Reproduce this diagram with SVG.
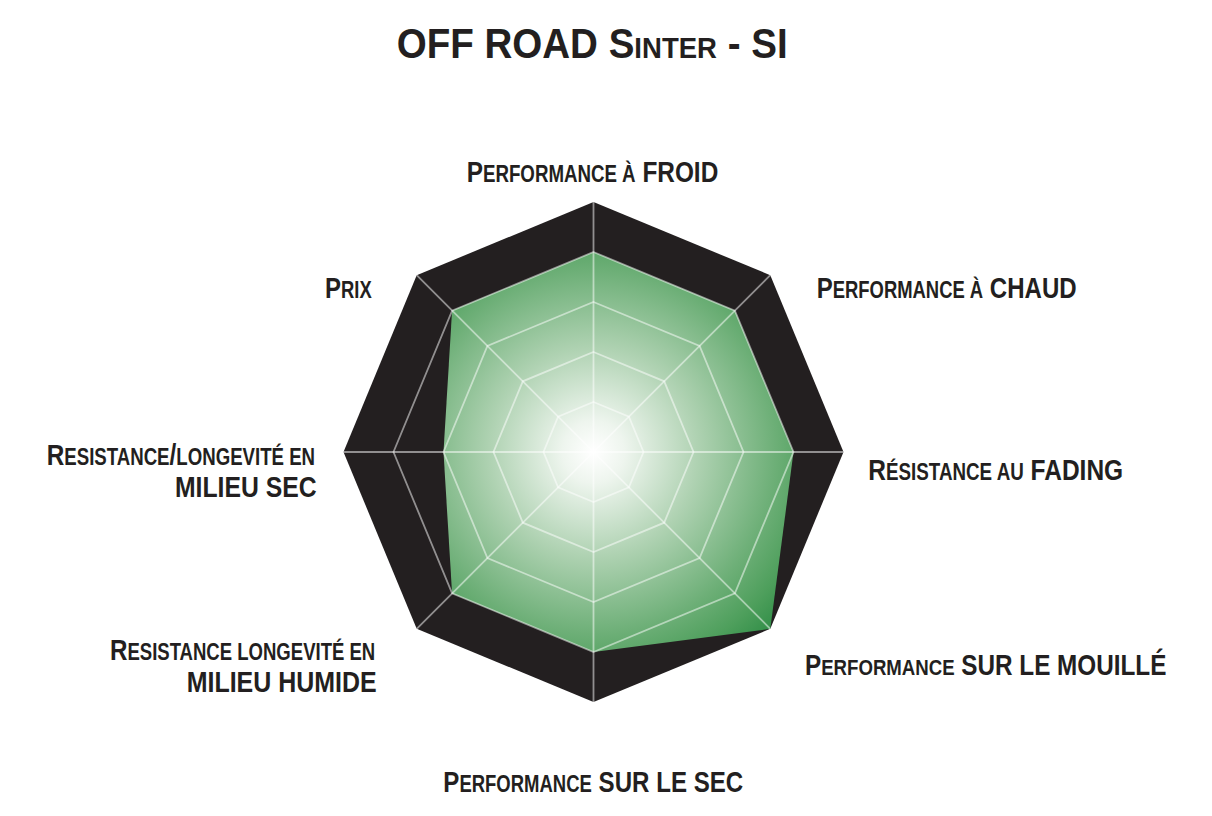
<svg xmlns="http://www.w3.org/2000/svg" width="1212" height="816" viewBox="0 0 1212 816">
<style>
  text { font-family: "Liberation Sans", Arial, sans-serif; font-weight: bold; fill: #231f20; }
  .big { font-size: 30px; }
  .sm { font-size: 23px; }
  .tbig { font-size: 42px; }
  .tsm { font-size: 30px; }
  .grid { fill: none; stroke: #ffffff; stroke-opacity: 0.5; stroke-width: 1.8; stroke-linejoin: miter; }
</style>
<defs>
  <radialGradient id="greenGrad" gradientUnits="userSpaceOnUse" cx="593.5" cy="452" r="260">
    <stop offset="0" stop-color="#ffffff"/>
    <stop offset="0.12" stop-color="#eef5ee"/>
    <stop offset="0.4" stop-color="#afd2b2"/>
    <stop offset="0.7" stop-color="#6daf77"/>
    <stop offset="0.85" stop-color="#4e9f5c"/>
    <stop offset="1" stop-color="#2a8a42"/>
  </radialGradient>
</defs>
<rect width="1212" height="816" fill="#ffffff"/>

<g id="title">
  <text transform="translate(396.7,58.3) scale(0.918,1)"><tspan class="tbig">OFF ROAD S</tspan><tspan class="tsm">INTER</tspan><tspan class="tbig"> - SI</tspan></text>
</g>

<g id="chart">
  <polygon id="outer" fill="#231f20" points="593.5,202 770.3,275.2 843.5,452 770.3,628.8 593.5,702 416.7,628.8 343.5,452 416.7,275.2"/>
  <polygon id="data" fill="url(#greenGrad)" points="593.5,252 734.9,310.6 793.5,452 770.3,628.8 593.5,652 452.1,593.4 443.5,452 452.1,310.6"/>
  <g id="grid" class="grid">
    <polygon points="593.5,252 734.9,310.6 793.5,452 734.9,593.4 593.5,652 452.1,593.4 393.5,452 452.1,310.6"/>
    <polygon points="593.5,302 699.6,345.9 743.5,452 699.6,558.1 593.5,602 487.4,558.1 443.5,452 487.4,345.9"/>
    <polygon points="593.5,352 664.2,381.3 693.5,452 664.2,522.7 593.5,552 522.8,522.7 493.5,452 522.8,381.3"/>
    <polygon points="593.5,402 628.9,416.6 643.5,452 628.9,487.4 593.5,502 558.1,487.4 543.5,452 558.1,416.6"/>
    <line x1="593.5" y1="202" x2="593.5" y2="702"/>
    <line x1="343.5" y1="452" x2="843.5" y2="452"/>
    <line x1="416.7" y1="275.2" x2="770.3" y2="628.8"/>
    <line x1="770.3" y1="275.2" x2="416.7" y2="628.8"/>
  </g>
</g>

<g id="label-froid">
  <text transform="translate(466.7,181.7) scale(0.813,1)"><tspan class="big">P</tspan><tspan class="sm">ERFORMANCE À</tspan><tspan class="big"> FROID</tspan></text>
</g>
<g id="label-chaud">
  <text transform="translate(816.7,298.3) scale(0.8015,1)"><tspan class="big">P</tspan><tspan class="sm">ERFORMANCE À</tspan><tspan class="big"> CHAUD</tspan></text>
</g>
<g id="label-fading">
  <text transform="translate(868.3,480) scale(0.817,1)"><tspan class="big">R</tspan><tspan class="sm">ÉSISTANCE AU</tspan><tspan class="big"> FADING</tspan></text>
</g>
<g id="label-mouille">
  <text transform="translate(805,675) scale(0.81,1)"><tspan class="big">P</tspan><tspan class="sm">ERFORMANCE</tspan><tspan class="big"> SUR LE MOUILLÉ</tspan></text>
</g>
<g id="label-sec">
  <text transform="translate(443.3,791.7) scale(0.804,1)"><tspan class="big">P</tspan><tspan class="sm">ERFORMANCE</tspan><tspan class="big"> SUR LE SEC</tspan></text>
</g>
<g id="label-humide">
  <text transform="translate(110,660) scale(0.806,1)"><tspan class="big">R</tspan><tspan class="sm">ESISTANCE LONGEVITÉ EN</tspan></text>
  <text transform="translate(186.7,691.7) scale(0.832,1)" class="big">MILIEU HUMIDE</text>
</g>
<g id="label-milieu-sec">
  <text transform="translate(46.7,465) scale(0.811,1)"><tspan class="big">R</tspan><tspan class="sm">ESISTANCE</tspan><tspan class="big">/</tspan><tspan class="sm">LONGEVITÉ EN</tspan></text>
  <text transform="translate(175,496.7) scale(0.825,1)" class="big">MILIEU SEC</text>
</g>
<g id="label-prix">
  <text transform="translate(325,298.3) scale(0.8,1)"><tspan class="big">P</tspan><tspan class="sm">RIX</tspan></text>
</g>
</svg>
